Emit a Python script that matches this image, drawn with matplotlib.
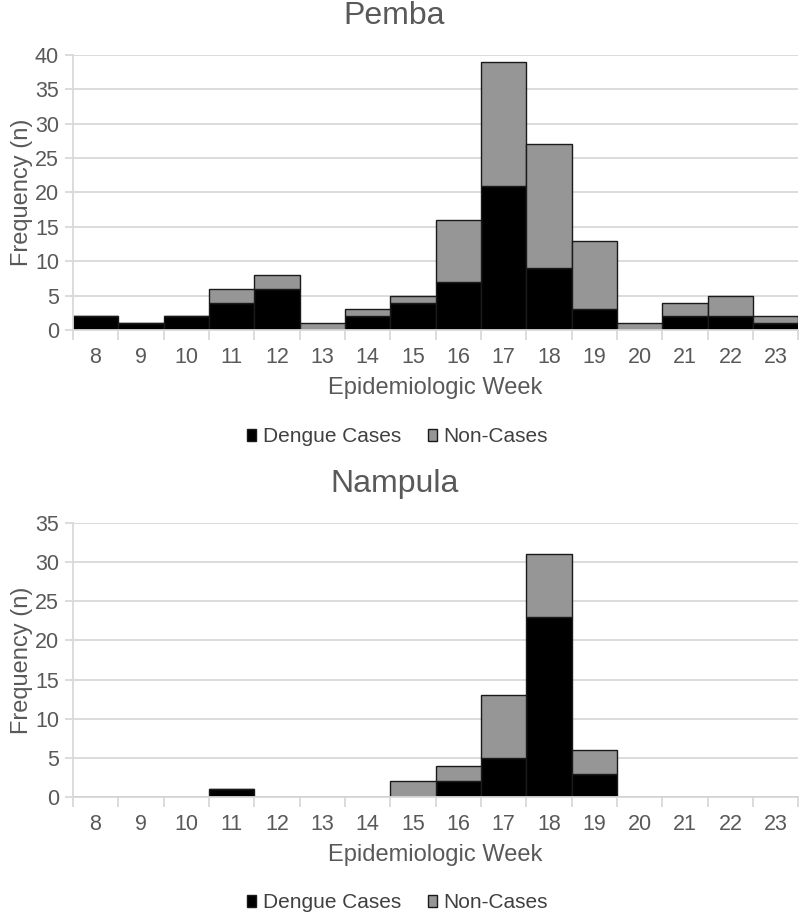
import numpy as np
import matplotlib
matplotlib.use('Agg')
import matplotlib.pyplot as plt
from matplotlib.patches import Patch

weeks = list(range(8, 24))
pemba_dengue = [2, 1, 2, 4, 6, 0, 2, 4, 7, 21, 9, 3, 0, 2, 2, 1]
pemba_non = [0, 0, 0, 2, 2, 1, 1, 1, 9, 18, 18, 10, 1, 2, 3, 1]
nampula_dengue = [0, 0, 0, 1, 0, 0, 0, 0, 2, 5, 23, 3, 0, 0, 0, 0]
nampula_non = [0, 0, 0, 0, 0, 0, 0, 2, 2, 8, 8, 3, 0, 0, 0, 0]

plt.rcParams['font.family'] = ['Liberation Sans', 'DejaVu Sans']
txt = '#595959'
grid = '#d9d9d9'
black = '#000000'
grey = '#969696'

fig = plt.figure(figsize=(8, 9.16), dpi=100)


def panel(rect, title, dengue, non, ymax, legend_y):
    ax = fig.add_axes(rect)
    x = np.arange(len(weeks))
    ax.bar(x, dengue, width=1.0, color=black, edgecolor='#1a1a1a', linewidth=1)
    ax.bar(x, non, width=1.0, bottom=dengue, color=grey, edgecolor='#1a1a1a', linewidth=1)
    ax.set_xlim(-0.5, len(weeks) - 0.5)
    ax.set_ylim(0, ymax)
    ax.set_yticks(np.arange(0, ymax + 1, 5))
    ax.yaxis.grid(True, color=grid, linewidth=1.3)
    ax.set_axisbelow(True)
    ax.set_xticks(x)
    ax.set_xticklabels([str(w) for w in weeks])
    ax.set_xticks(np.arange(-0.5, len(weeks), 1), minor=True)
    ax.tick_params(axis='x', which='major', length=0, pad=12, labelsize=15.5, colors=txt)
    ax.tick_params(axis='x', which='minor', length=7, color=grid, width=1.3)
    ax.tick_params(axis='y', length=6, color=grid, width=1.3, labelsize=15.5, labelcolor=txt, pad=4)
    for s in ['top', 'right']:
        ax.spines[s].set_visible(False)
    ax.spines['left'].set_color(grid)
    ax.spines['left'].set_linewidth(1.3)
    ax.spines['bottom'].set_color(grid)
    ax.spines['bottom'].set_linewidth(1.3)
    # title sits over the figure centre, not the axes centre
    ax.set_title(title, fontsize=23, color=txt, pad=22, x=0.4435)
    ax.set_xlabel('Epidemiologic Week', fontsize=17, color=txt, labelpad=7)
    ax.set_ylabel('Frequency (n)', fontsize=17, color=txt, labelpad=1)
    handles = [Patch(facecolor=black, edgecolor='#1a1a1a'), Patch(facecolor=grey, edgecolor='#1a1a1a')]
    fig.legend(handles, ['Dengue Cases', 'Non-Cases'], loc='center', bbox_to_anchor=(0.497, legend_y),
               ncol=2, frameon=False, fontsize=15, labelcolor='#404040', handlelength=0.45,
               handleheight=0.45, handletextpad=0.3, columnspacing=1.3)
    return ax


panel([0.091, 0.6397, 0.907, 0.3003], 'Pemba', pemba_dengue, pemba_non, 40, 1 - 437 / 916)
panel([0.091, 0.1299, 0.907, 0.2991], 'Nampula', nampula_dengue, nampula_non, 35, 1 - 903 / 916)

fig.savefig('out.png', dpi=100)
